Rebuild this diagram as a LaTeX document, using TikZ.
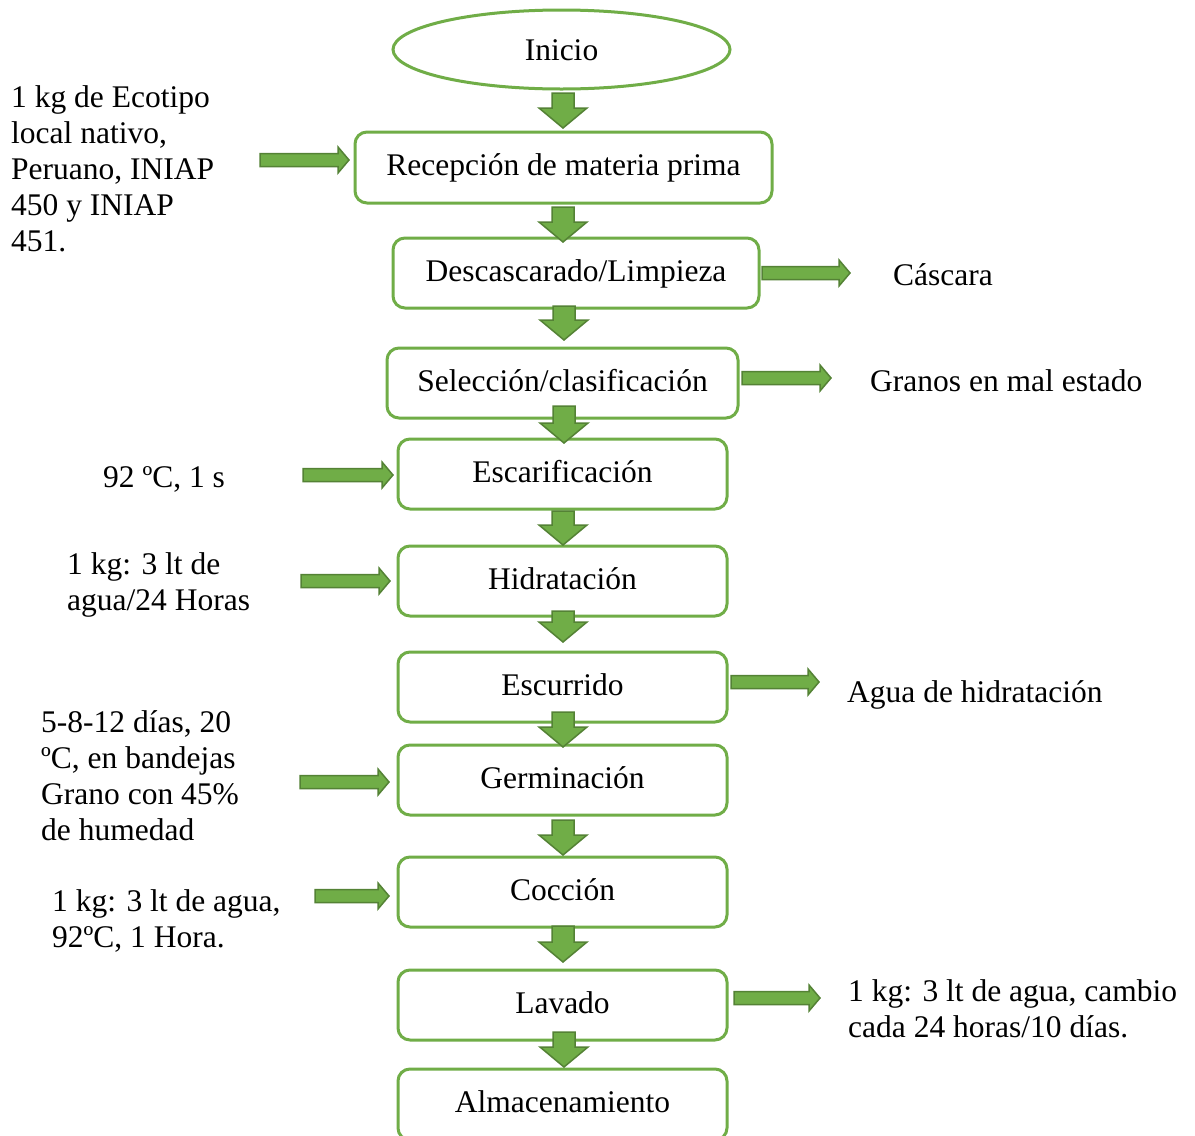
\documentclass[tikz,border=0pt]{standalone}
\usepackage{fontspec}
\setmainfont{Liberation Serif}
\usetikzlibrary{shapes.geometric}
\definecolor{gfill}{HTML}{70AD47}
\definecolor{gline}{HTML}{548235}
\newcommand\DArr[3]{%
  \draw[blk] (#1-11,#2) -- (#1+11,#2) -- (#1+11,#3-20) -- (#1+24,#3-20) -- (#1,#3) -- (#1-24,#3-20) -- (#1-11,#3-20) -- cycle;}
\newcommand\RArr[3]{%
  \draw[blk] (#1,#3-6.5) -- (#2-11,#3-6.5) -- (#2-11,#3-13) -- (#2,#3) -- (#2-11,#3+13) -- (#2-11,#3+6.5) -- (#1,#3+6.5) -- cycle;}
\begin{document}
\begin{tikzpicture}[x=1pt,y=-1pt,
  every node/.style={font=\fontsize{31.5}{36}\selectfont},
  box/.style={draw=gfill, line width=3pt, rounded corners=12pt, fill=white,
    minimum height=70pt, inner sep=0pt, text height=22pt, text depth=6pt},
  blk/.style={fill=gfill, draw=gline, line width=1.5pt, line join=miter},
  lbl/.style={inner sep=0pt, align=left, anchor=north west},
  lbl1/.style={inner sep=0pt, anchor=base west}]
\useasboundingbox (0,0) rectangle (1195,1136);
\clip (0,0) rectangle (1195,1136);
\fill[white] (0,0) rectangle (1195,1136);

\node[ellipse, draw=gfill, line width=3pt, minimum width=337pt, minimum height=79pt, inner sep=0pt, text height=25pt, text depth=3pt] (ini) at (561.5,49.5) {Inicio};
\node[box, minimum width=417pt, minimum height=71pt] (rec) at (563.5,167.5) {Recepción de materia prima};
\node[box, minimum width=366pt] (des) at (576,273) {Descascarado/Limpieza};
\node[box, minimum width=351pt] (sel) at (562.5,383) {Selección/clasificación};
\node[box, minimum width=329pt] (esc) at (562.5,474) {Escarificación};
\node[box, minimum width=329pt] (hid) at (562.5,581) {Hidratación};
\node[box, minimum width=329pt] (escu) at (562.5,687) {Escurrido};
\node[box, minimum width=329pt] (ger) at (562.5,780) {Germinación};
\node[box, minimum width=329pt] (coc) at (562.5,892) {Cocción};
\node[box, minimum width=329pt] (lav) at (562.5,1005) {Lavado};
\node[box, minimum width=329pt, minimum height=71pt] (alm) at (562.5,1104.5) {Almacenamiento};

% vertical block arrows
\DArr{563}{93}{128}
\DArr{563}{207}{242}
\DArr{564}{306}{340}
\DArr{564}{406}{443}
\DArr{563}{511}{545}
\DArr{563}{611}{642}
\DArr{563}{712}{747}
\DArr{563}{820}{855}
\DArr{563}{926}{962}
\DArr{564}{1032}{1067}

% horizontal block arrows
\RArr{260}{349}{160}
\RArr{762}{850}{273}
\RArr{742}{831}{378}
\RArr{303}{393}{475}
\RArr{301}{390}{581}
\RArr{731}{819}{682}
\RArr{300}{389}{782}
\RArr{315}{389}{896}
\RArr{734}{820}{998}

% side texts
\node[lbl] (t1) at (11,82) {\strut 1 kg de Ecotipo\\local nativo,\\Peruano, INIAP\\450 y INIAP\\451.};
\node[lbl1] (t2) at (893,285) {Cáscara};
\node[lbl1] (t3) at (870,391) {Granos en mal estado};
\node[lbl1] (t4) at (103,487) {92 ºC, 1 s};
\node[lbl] (t5) at (67,548.8) {\strut 1 kg: 3 lt de\\agua/24 Horas};
\node[lbl1] (t6) at (847,702) {Agua de hidratación};
\node[lbl] (t7) at (41,706.8) {\strut 5-8-12 días, 20\\ºC, en bandejas\\Grano con 45\%\\de humedad};
\node[lbl] (t8) at (52,885.8) {\strut 1 kg: 3 lt de agua,\\92ºC, 1 Hora.};
\node[lbl] (t9) at (848,975.8) {\strut 1 kg: 3 lt de agua, cambio\\cada 24 horas/10 días.};
\end{tikzpicture}
\end{document}
